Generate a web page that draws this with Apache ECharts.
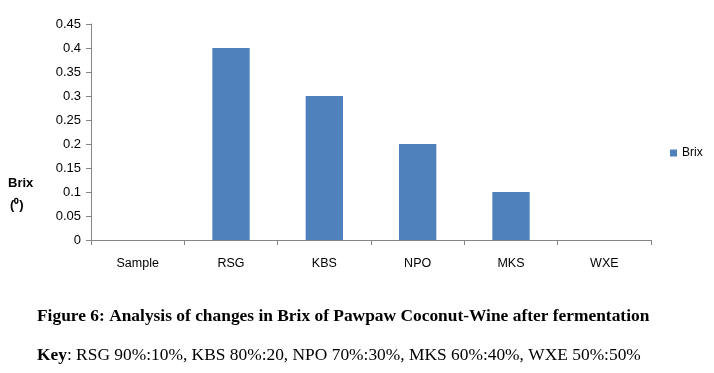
<!DOCTYPE html>
<html><head><meta charset="utf-8">
<script src="https://cdn.jsdelivr.net/npm/echarts@6/dist/echarts.min.js"></script>
<style>html,body{margin:0;padding:0;background:#fff}#c{width:714px;height:373px}</style>
</head><body><div id="c"></div>
<script>
const categories = ['Sample', 'RSG', 'KBS', 'NPO', 'MKS', 'WXE'];
const brixValues = [0, 0.4, 0.3, 0.2, 0.1, 0];
const seriesName = 'Brix';
const yTicks = { min: 0, max: 0.45, interval: 0.05 };
const titleText = 'Figure 6: Analysis of changes in Brix of Pawpaw Coconut-Wine after fermentation';
const keyLabel = 'Key';
const keyText = ': RSG 90%:10%, KBS 80%:20, NPO 70%:30%, MKS 60%:40%, WXE 50%:50%';

const chart = echarts.init(document.getElementById('c'));
chart.setOption({
  animation: false,
  grid: { left: 91, right: 63, top: 24, bottom: 133 },
  legend: {
    data: [seriesName], left: 665, top: 142, orient: 'vertical',
    icon: 'rect', itemWidth: 7, itemHeight: 7, itemGap: 4,
    textStyle: { fontFamily: 'Liberation Sans', fontSize: 12, color: '#000' }
  },
  xAxis: {
    type: 'category', data: categories,
    axisLine: { lineStyle: { color: '#868686' } },
    axisTick: { show: true, alignWithLabel: false, length: 5, lineStyle: { color: '#868686' } },
    axisLabel: { margin: 17, fontFamily: 'Liberation Sans', fontSize: 12.5, color: '#000' }
  },
  yAxis: {
    type: 'value', min: yTicks.min, max: yTicks.max, interval: yTicks.interval,
    splitLine: { show: false },
    axisLine: { show: true, lineStyle: { color: '#868686' } },
    axisTick: { show: true, length: 5, lineStyle: { color: '#868686' } },
    axisLabel: { margin: 10, fontFamily: 'Liberation Sans', fontSize: 13, color: '#000',
      formatter: v => String(parseFloat(v.toFixed(2))) }
  },
  series: [{
    name: seriesName, type: 'bar', data: brixValues,
    barCategoryGap: '60%', itemStyle: { color: '#4f81bd' }
  }],
  graphic: [
    { type: 'text', left: 8, top: 177, style: { text: 'Brix', font: 'bold 13px "Liberation Sans"', fill: '#000' } },
    { type: 'text', left: 10, top: 199, style: { text: '(⁰)', font: 'bold 13px "Liberation Sans"', fill: '#000' } },
    { type: 'text', left: 37, top: 308, style: { text: titleText, font: 'bold 17.4px "Liberation Serif"', fill: '#000' } },
    { type: 'text', left: 37, top: 347, style: {
        text: '{b|' + keyLabel + '}{n|' + keyText + '}',
        rich: { b: { font: 'bold 17.4px "Liberation Serif"', fill: '#000' },
                n: { font: '17.4px "Liberation Serif"', fill: '#000' } } } }
  ]
});
</script></body></html>
